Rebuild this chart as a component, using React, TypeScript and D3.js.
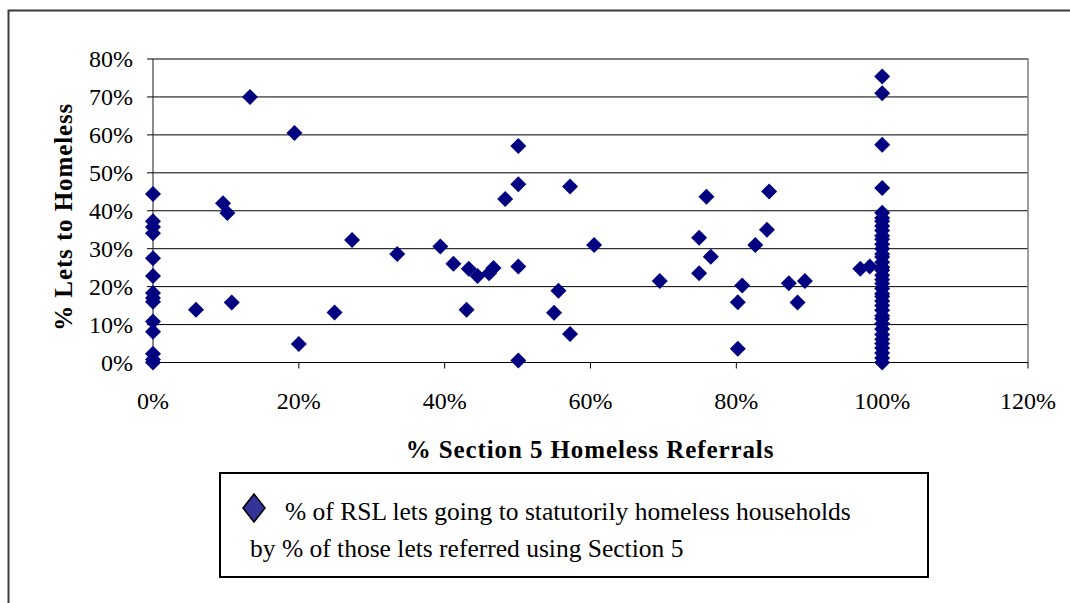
import React from "react";
import * as d3 from "d3";

// % of lets referred using Section 5 (x) and % of lets to homeless (y), as fractions
const referralPct = [
  0, 0, 0, 0, 0, 0, 0, 0, 0, 0, 0, 0, 0, 0,
  0.059, 0.096, 0.102, 0.108, 0.133, 0.194, 0.2, 0.249, 0.273, 0.335,
  0.394, 0.412, 0.43, 0.433, 0.445, 0.461, 0.467, 0.483, 0.501, 0.501,
  0.501, 0.501, 0.55, 0.556, 0.572, 0.572, 0.605, 0.695, 0.749, 0.749,
  0.759, 0.765, 0.802, 0.802, 0.808, 0.826, 0.842, 0.845, 0.872, 0.884,
  0.894, 0.97, 0.983,
  1, 1, 1, 1, 1, 1, 1, 1, 1, 1, 1, 1, 1, 1,
  1, 1, 1, 1, 1, 1, 1, 1, 1, 1, 1, 1, 1, 1,
  1, 1, 1, 1, 1, 1, 1, 1, 1, 1, 1, 1, 1, 1,
];
const homelessPct = [
  0.444, 0.372, 0.357, 0.341, 0.275, 0.228, 0.183, 0.17, 0.16, 0.108, 0.081, 0.023, 0.008, 0,
  0.139, 0.42, 0.394, 0.158, 0.7, 0.605, 0.049, 0.132, 0.323, 0.286,
  0.306, 0.26, 0.139, 0.247, 0.228, 0.235, 0.249, 0.431, 0.571, 0.47,
  0.253, 0.005, 0.131, 0.189, 0.464, 0.075, 0.31, 0.215, 0.329, 0.235,
  0.437, 0.279, 0.159, 0.036, 0.203, 0.31, 0.35, 0.451, 0.209, 0.158,
  0.215, 0.247, 0.253,
  0.754, 0.71, 0.574, 0.46, 0.395, 0.381, 0.372, 0.36, 0.348, 0.334, 0.325, 0.312, 0.3, 0.286,
  0.278, 0.264, 0.251, 0.243, 0.23, 0.219, 0.208, 0.195, 0.181, 0.174, 0.162, 0.15, 0.138, 0.123,
  0.115, 0.102, 0.088, 0.074, 0.061, 0.05, 0.038, 0.025, 0.012, 0,
];

const xTicks = [0, 0.2, 0.4, 0.6, 0.8, 1.0, 1.2];
const yTicks = [0, 0.1, 0.2, 0.3, 0.4, 0.5, 0.6, 0.7, 0.8];

const xTitle = "% Section 5 Homeless Referrals";
const yTitle = "% Lets to Homeless";
const legendLine1 = "% of RSL lets going to statutorily homeless households";
const legendLine2 = "by % of those lets referred using Section 5";

const font = "'Liberation Serif', 'Times New Roman', serif";

export default function App() {
  const W = 1070;
  const H = 603;
  const left = 153;
  const right = 1028;
  const top = 59;
  const bottom = 362.5;

  const x = d3.scaleLinear().domain([0, 1.2]).range([left, right]);
  const y = d3.scaleLinear().domain([0, 0.8]).range([bottom, top]);
  const pct = d3.format(".0%");

  const diamond = "M0,-8L8,0L0,8L-8,0Z";
  const n = Math.min(referralPct.length, homelessPct.length);
  const points = d3.range(n).map((i) => [referralPct[i], homelessPct[i]]);

  return (
    <svg
      width={W}
      height={H}
      style={{ position: "absolute", left: 0, top: 0, background: "#fff" }}
      fontFamily={font}
    >
      {/* outer frame */}
      <path d={`M8.5,${H}V10.5H${W}`} fill="none" stroke="#3a3a3a" strokeWidth={2} />

      {/* gridlines */}
      {yTicks.slice(1).map((t) => (
        <line key={"g" + t} x1={left} x2={right} y1={y(t)} y2={y(t)} stroke="#000" strokeWidth={1} />
      ))}
      {/* plot border top/right */}
      <path d={`M${left},${top}H${right}V${bottom}`} fill="none" stroke="#808080" strokeWidth={1.5} />

      {/* y axis */}
      <line x1={left} x2={left} y1={top} y2={bottom} stroke="#404040" strokeWidth={1.2} />
      {yTicks.map((t) => (
        <g key={"y" + t}>
          <line x1={left - 6} x2={left} y1={y(t)} y2={y(t)} stroke="#000" />
          <text x={133} y={y(t)} dy="0.35em" textAnchor="end" fontSize={24}>
            {pct(t)}
          </text>
        </g>
      ))}

      {/* x axis */}
      <line x1={left} x2={right} y1={bottom} y2={bottom} stroke="#000" strokeWidth={1.2} />
      {xTicks.map((t) => (
        <g key={"x" + t}>
          <line x1={x(t)} x2={x(t)} y1={bottom} y2={bottom + 6} stroke="#000" />
          <text x={x(t)} y={409} textAnchor="middle" fontSize={24}>
            {pct(t)}
          </text>
        </g>
      ))}

      {/* points */}
      {points.map(([a, b], i) => (
        <path key={i} d={diamond} transform={`translate(${x(a)},${y(b)})`} fill="#000080" />
      ))}

      {/* axis titles */}
      <text x={590} y={458} textAnchor="middle" fontSize={25} fontWeight="bold" letterSpacing={0.9}>
        {xTitle}
      </text>
      <text
        transform={`translate(72,${(top + bottom) / 2 + 6}) rotate(-90)`}
        textAnchor="middle"
        fontSize={25}
        fontWeight="bold"
        letterSpacing={0.9}
      >
        {yTitle}
      </text>

      {/* legend */}
      <rect x={220} y={473} width={708} height={104} fill="#fff" stroke="#000" strokeWidth={2} />
      <path d="M0,-14L11,0L0,14L-11,0Z" transform="translate(254,508)" fill="#333399" stroke="#000" strokeWidth={1.5} />
      <text x={285} y={520} fontSize={25.5}>
        {legendLine1}
      </text>
      <text x={250} y={557} fontSize={25.5}>
        {legendLine2}
      </text>
    </svg>
  );
}
